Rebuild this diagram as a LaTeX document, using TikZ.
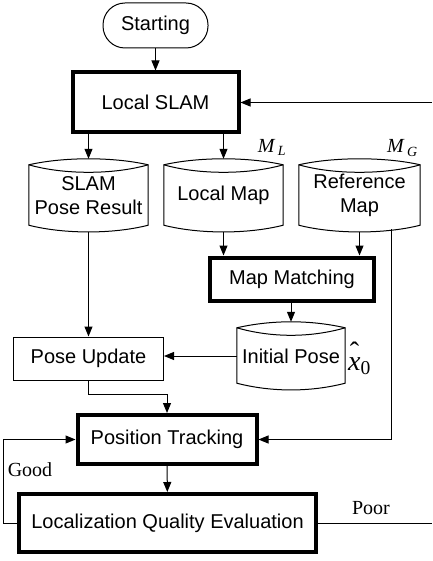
\documentclass[tikz,border=0pt]{standalone}
\usepackage{fontspec}
\setmainfont{Liberation Sans}
\newfontfamily\timesface{Liberation Serif}
\usetikzlibrary{positioning,calc,arrows,arrows.meta}

% outline of a data store around a named node
\newcommand\dbshape[1]{%
	\draw [line width=1pt] ($(#1.north west)+(0,6)$) .. controls +(35,-8) and +(-35,-8) .. ($(#1.north east)+(0,6)$)
		-- ($(#1.south east)+(0,-7)$) .. controls +(-35,9) and +(35,9) .. ($(#1.south west)+(0,-7)$) -- cycle;
	\draw [line width=1pt] ($(#1.north west)+(0,6)$) .. controls +(35,10) and +(-35,10) .. ($(#1.north east)+(0,6)$);
}

\begin{document}
\begin{tikzpicture}
	\begin{scope}[x=1pt, y=-1pt]
		\tikzstyle{every node}=[align=center, inner sep=1pt, font=\fontsize{20}{24}\selectfont]
		\tikzstyle{term}=[draw, line width=1pt, rounded corners=22pt]
		\tikzstyle{proc}=[draw, line width=4pt]
		\tikzstyle{plain}=[draw, line width=1pt]
		\tikzstyle{store}=[inner sep=0pt]
		\tikzstyle{lbl}=[font=\fontsize{20}{24}\selectfont\timesface]
		\tikzstyle{sym}=[font=\fontsize{20}{22}\selectfont\timesface\itshape]
		\tikzstyle{wire}=[line width=1pt, ->, >={Stealth[length=10pt, width=8pt, inset=0pt]}]
		\tikzstyle{link}=[line width=1pt]

		\useasboundingbox (0,0) rectangle (432,561);

		\node[term, minimum width=105pt, minimum height=45pt] (start) at (155.5, 25.5) {Starting};
		\node[proc, minimum width=166pt, minimum height=60pt] (lslam) at (155.5, 102.5) {Local SLAM};

		\node[store, minimum width=119pt, minimum height=73pt] (posres) at (88.5, 195.5) {SLAM\\Pose Result};
		\node[store, minimum width=119pt, minimum height=73pt] (locmap) at (223.5, 195.5) {Local Map};
		\node[store, minimum width=121pt, minimum height=73pt] (refmap) at (359.5, 195.5) {Reference\\Map};
		\dbshape{posres}
		\dbshape{locmap}
		\dbshape{refmap}

		\node[sym] (ml) at (272, 147.5) {M\,\textsubscript{L}};
		\node[sym] (mg) at (402.5, 148) {M\,\textsubscript{G}};

		\node[proc, minimum width=164pt, minimum height=43pt] (match) at (292, 279) {Map Matching};
		\node[store, minimum width=108pt, minimum height=68pt] (initpose) at (291, 356) {Initial Pose};
		\dbshape{initpose}
		\node[sym, font=\fontsize{28}{30}\selectfont\timesface, anchor=base west] (xhat) at (347, 370)
			{\begin{tabular}[b]{@{}c@{}}ˆ\\[-21pt]\textit{x}\end{tabular}\textsubscript{0}};

		\node[plain, minimum width=150pt, minimum height=43pt] (poseupd) at (88.5, 358.5) {Pose Update};
		\node[proc, minimum width=179pt, minimum height=49pt] (track) at (167, 439.5) {Position Tracking};
		\node[proc, minimum width=297pt, minimum height=58pt] (lqe) at (167.5, 523) {Localization Quality Evaluation};

		\node[lbl] (good) at (30, 470) {Good};
		\node[lbl] (poor) at (371, 508) {Poor};

		\coordinate (rtop) at (432, 102.5);
		\coordinate (rbot) at (432, 523);
		\coordinate (reftap) at (391, 229);

		\draw [wire] (start) to (lslam);
		\draw [wire] (rtop) to (lslam.east);
		\draw [wire] (lslam.south -| posres.north) to (posres.north);
		\draw [wire] (lslam.south -| locmap.north) to (locmap.north);
		\draw [wire] (posres.south) to (poseupd.north);
		\draw [wire] (locmap.south) to (locmap.south |- match.north);
		\draw [wire] (refmap.south) to (refmap.south |- match.north);
		\draw [wire] (match.south -| initpose.north) to (initpose.north);
		\draw [wire] (initpose.west) to (poseupd.east |- initpose.west);
		\draw [wire] (poseupd.south) -- ++(0,14) -| (track.north);
		\draw [wire] (reftap) |- (track.east);
		\draw [wire] (track) to (lqe);
		\draw [wire] (lqe.west) -- ++(-14,0) |- (track.west);
		\draw [link] (lqe.east) to (rbot);
	\end{scope}
\end{tikzpicture}
\end{document}
